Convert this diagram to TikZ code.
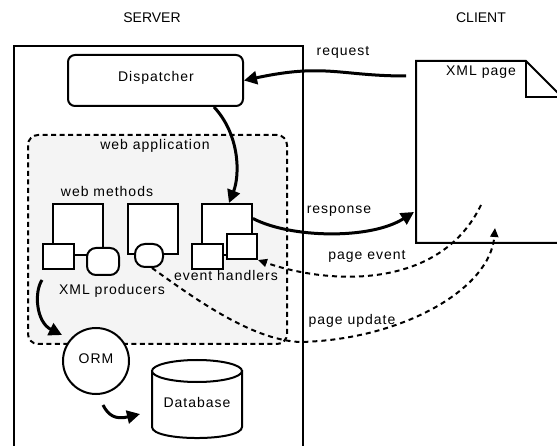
\documentclass[tikz,border=0pt]{standalone}
\usepackage{fontspec}
\setmainfont{Liberation Sans}[LetterSpace=7]
\newfontfamily\titlefont{Liberation Sans}
\usetikzlibrary{arrows.meta}
\definecolor{appgray}{RGB}{244,244,244}
\begin{document}
\begin{tikzpicture}[x=1pt,y=-1pt,
  every node/.style={font=\fontsize{14}{16}\selectfont, inner sep=0pt},
  lbl/.style={anchor=base},
  title/.style={anchor=base, font=\titlefont\fontsize{14}{16}\selectfont},
  box/.style={draw, line width=2pt, fill=white},
  thickarrow/.style={line width=3pt, -{Triangle[length=13pt,width=13pt]}},
  dasharrow/.style={line width=2pt, dash pattern=on 5pt off 4pt, -{Triangle[length=9pt,width=8pt]}},
  shape line/.style={line width=2pt}]
\useasboundingbox (0,0) rectangle (557,446);
\clip (0,0) rectangle (557,446);

% titles
\node[title] (tserver) at (152,23) {SERVER};
\node[title] (tclient) at (481,23) {CLIENT};

% server frame
\node[box, fill=none, minimum width=289pt, minimum height=430pt, anchor=north west] (server) at (13,45) {};

% dispatcher
\node[box, rounded corners=7pt, minimum width=175pt, minimum height=51pt] (disp) at (155.5,80.5) {};
\node[lbl] (tdisp) at (156,82) {Dispatcher};

% web application
\node[draw, line width=2pt, dash pattern=on 5pt off 3.5pt, rounded corners=10pt, fill=appgray,
      minimum width=259pt, minimum height=209pt] (webapp) at (157.5,239.5) {};
\node[lbl] (twebapp) at (155,150) {web application};
\node[lbl] (twebm) at (107,197) {web methods};

% web methods
\node[box, minimum width=50pt, minimum height=51pt] (m1) at (78,229.5) {};
\node[box, minimum width=50pt, minimum height=50pt] (m2) at (153,229) {};
\node[box, minimum width=50pt, minimum height=51pt] (m3) at (227,229.5) {};

\node[box, minimum width=31pt, minimum height=25pt] (A) at (58.5,256.5) {};
\node[box, rounded corners=9pt, minimum width=32pt, minimum height=27pt] (B) at (103,261.5) {};
\node[box, rounded corners=10pt, minimum width=28pt, minimum height=23pt] (C) at (149,255.5) {};
\node[box, minimum width=31pt, minimum height=25pt] (D) at (207.5,256.5) {};
\node[box, minimum width=30pt, minimum height=25pt] (E) at (242,246.5) {};

\node[lbl] (tevh) at (226,281) {event handlers};
\node[lbl] (txmlp) at (112,295) {XML producers};

% ORM
\node[draw, circle, line width=2pt, fill=white, minimum size=66pt] (orm) at (96,361) {};
\node[lbl] (torm) at (96,363) {ORM};

% Database cylinder
\coordinate (dbtl) at (152,371);
\coordinate (dbtr) at (242,371);
\coordinate (dbbl) at (152,427);
\coordinate (dbbr) at (242,427);
\draw[shape line, fill=white] (dbtl) -- (dbbl) .. controls (152,441.7) and (242,441.7) .. (dbbr) -- (dbtr) -- cycle;
\draw[shape line, fill=white] (197,371) ellipse [x radius=45, y radius=11];
\node[lbl] (tdb) at (197,407) {Database};

% XML page
\coordinate (p1) at (416,61);
\coordinate (p2) at (526,61);
\coordinate (p3) at (562,97);
\coordinate (p4) at (562,243);
\coordinate (p5) at (416,243);
\coordinate (pf) at (526,97);
\draw[shape line, fill=white, line join=miter] (p1) -- (p2) -- (p3) -- (p4) -- (p5) -- cycle;
\draw[shape line] (p2) -- (pf) -- (p3);
\node[lbl] (txmlpage) at (481,76) {XML page};

% labels on connectors
\node[lbl] (treq) at (343,56) {request};
\node[lbl] (tresp) at (339,214) {response};
\node[lbl] (tpev) at (367,260) {page event};
\node[lbl] (tpup) at (352,325) {page update};

% connector end points
\coordinate (reqstart) at (406,76);
\coordinate (respend) at (414,212);
\coordinate (pestart) at (481,205);
\coordinate (puend) at (495,228);
\coordinate (ormin) at (62,335);
\coordinate (ormout) at (103,405);
\coordinate (dbin) at (140,414);

% connectors
\draw[thickarrow] (reqstart) .. controls (340,76) and (325,63) .. (disp.east);
\draw[thickarrow] ([xshift=58.5pt]disp.south) .. controls (240,135) and (240,175) .. ([xshift=2pt]m3.north);
\draw[thickarrow] ([yshift=11pt]m3.east) .. controls (290,238) and (370,240) .. (respend);
\draw[dasharrow] (pestart) .. controls (440,290) and (330,285) .. (E.south east);
\draw[dasharrow] ([xshift=3pt]C.south) .. controls (190,295) and (250,340) .. (300,342)
   .. controls (400,340) and (490,290) .. (puend);
\draw[thickarrow] ([yshift=-10pt]A.south west) .. controls (34,292) and (36,322) .. (ormin);
\draw[thickarrow] (ormout) .. controls (108,415) and (115,420) .. (dbin);
\end{tikzpicture}
\end{document}
